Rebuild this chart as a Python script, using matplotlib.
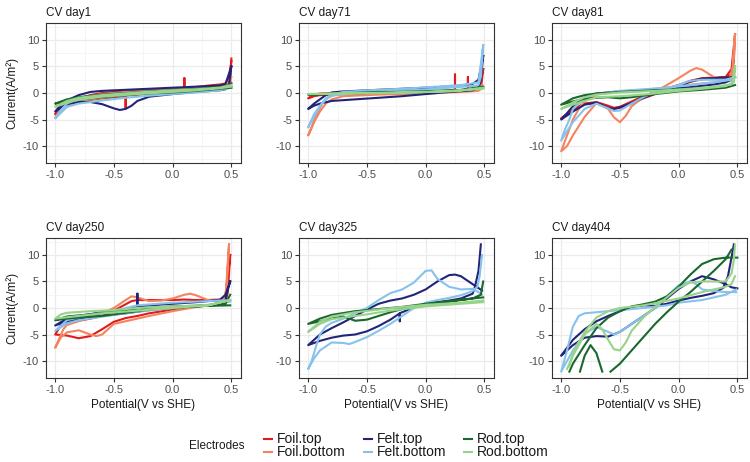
import matplotlib
matplotlib.use("Agg")
import matplotlib.pyplot as plt
from matplotlib.lines import Line2D
from matplotlib.ticker import MultipleLocator
import numpy as np

plt.rcParams['font.family'] = ['Liberation Sans', 'DejaVu Sans']

# ---------------- data : (potential V vs SHE, current A/m2) along each scan ----------------
electrodes = ["Foil.top", "Foil.bottom", "Felt.top", "Felt.bottom", "Rod.top", "Rod.bottom"]
colors = ["#E31A1C", "#F4845F", "#232479", "#86C2EC", "#19692F", "#98D38B"]
days = ["CV day1", "CV day71", "CV day81", "CV day250", "CV day325", "CV day404"]

day1 = {
    "Foil.top": [(0.5, 6.5), (0.49, 2), (0.45, 1.3), (0.4, 1.2), (0.3, 1.0), (0.2, 0.8), (0.1, 0.6), (0.0, 0.3),
                 (-0.2, 0.0), (-0.3, -0.3), (-0.4, -0.5), (-0.4, -2.8), (-0.4, -0.6), (-0.5, -0.8), (-0.6, -1.0),
                 (-0.7, -1.3), (-0.8, -1.6), (-0.9, -2.5), (-1.0, -4.0), (-0.95, -2.8), (-0.9, -2.0), (-0.8, -1.0),
                 (-0.7, -0.4), (-0.6, 0.0), (-0.5, 0.2), (-0.3, 0.4), (-0.1, 0.6), (0.1, 0.8), (0.1, 2.8), (0.1, 0.9),
                 (0.2, 1.1), (0.3, 1.4), (0.4, 1.6), (0.45, 1.8), (0.48, 3), (0.5, 6.0)],
    "Foil.bottom": [(0.5, 3), (0.45, 1.2), (0.3, 0.8), (0.1, 0.5), (-0.1, 0.2), (-0.3, -0.2), (-0.5, -0.6),
                    (-0.7, -1.2), (-0.8, -1.6), (-0.9, -2.6), (-1.0, -4.6), (-0.95, -3.0), (-0.9, -2.0), (-0.8, -1.0),
                    (-0.6, -0.2), (-0.4, 0.2), (-0.2, 0.4), (0.0, 0.6), (0.2, 0.9), (0.4, 1.3), (0.5, 2.0)],
    "Felt.top": [(0.5, 5), (0.48, 1.6), (0.45, 0.7), (0.4, 0.5), (0.2, 0.2), (0.0, -0.2), (-0.2, -0.7), (-0.3, -1.5),
                 (-0.35, -2.4), (-0.4, -3.0), (-0.45, -3.2), (-0.5, -2.9), (-0.6, -2.1), (-0.7, -1.7), (-0.8, -1.7),
                 (-0.9, -2.1), (-1.0, -3.5), (-0.95, -2.2), (-0.9, -1.4), (-0.8, -0.4), (-0.7, 0.2), (-0.6, 0.4),
                 (-0.4, 0.6), (-0.2, 0.8), (0.0, 1.0), (0.2, 1.2), (0.3, 1.3), (0.4, 1.4), (0.45, 1.7), (0.5, 5)],
    "Felt.bottom": [(0.5, 1.0), (0.4, 0.5), (0.2, 0.1), (0.0, -0.2), (-0.2, -0.5), (-0.4, -0.9), (-0.6, -1.4),
                    (-0.8, -2.0), (-0.9, -2.6), (-1.0, -4.8), (-0.95, -3.2), (-0.9, -2.0), (-0.8, -1.0), (-0.6, -0.3),
                    (-0.4, 0.0), (-0.2, 0.3), (0.0, 0.5), (0.2, 0.7), (0.4, 1.0), (0.5, 1.3)],
    "Rod.top": [(0.5, 1.0), (0.4, 0.8), (0.2, 0.4), (0.0, 0.1), (-0.2, -0.1), (-0.4, -0.4), (-0.6, -0.8), (-0.8, -1.3),
                (-0.9, -1.6), (-1.0, -2.0), (-0.9, -1.2), (-0.8, -0.8), (-0.6, -0.3), (-0.4, 0.0), (-0.2, 0.3),
                (0.0, 0.5), (0.2, 0.8), (0.4, 1.1), (0.48, 1.4), (0.5, 1.8)],
    "Rod.bottom": [(0.5, 1.2), (0.4, 0.9), (0.2, 0.5), (0.0, 0.2), (-0.3, -0.2), (-0.6, -0.7), (-0.8, -1.3),
                   (-0.9, -1.8), (-1.0, -2.6), (-0.9, -1.5), (-0.8, -0.9), (-0.6, -0.4), (-0.3, 0.1), (0.0, 0.5),
                   (0.2, 0.7), (0.4, 1.0), (0.5, 1.5)],
}

day71 = {
    "Foil.top": [(0.49, 4.5), (0.47, 0.7), (0.4, 0.5), (0.36, 0.5), (0.36, 3.0), (0.36, 0.5), (0.3, 0.4), (0.25, 0.4),
                 (0.25, 3.5), (0.25, 0.4), (0.0, 0.1), (-0.3, -0.1), (-0.6, -0.2), (-0.8, -0.3), (-0.9, -0.4),
                 (-0.95, -0.6), (-1.0, -1.0), (-0.95, -0.4), (-0.9, -0.1), (-0.7, 0.1), (-0.4, 0.2), (0.0, 0.3),
                 (0.3, 0.5), (0.45, 0.8), (0.49, 4.5)],
    "Foil.bottom": [(0.48, 1.5), (0.45, 0.4), (0.3, 0.2), (0.0, -0.1), (-0.4, -0.3), (-0.7, -0.6), (-0.8, -1.2),
                    (-0.85, -2.0), (-0.9, -3.5), (-0.95, -5.5), (-1.0, -8.0), (-0.97, -6.5), (-0.93, -4.0),
                    (-0.88, -2.0), (-0.83, -0.8), (-0.75, -0.2), (-0.6, 0.0), (-0.3, 0.2), (0.0, 0.3), (0.3, 0.5),
                    (0.45, 0.7), (0.48, 1.5)],
    "Felt.top": [(0.49, 7.0), (0.47, 2.5), (0.45, 1.0), (0.4, 0.5), (0.2, 0.2), (0.0, -0.2), (-0.2, -0.6),
                 (-0.4, -0.9), (-0.6, -1.2), (-0.8, -1.5), (-0.9, -2.0), (-0.95, -2.4), (-1.0, -3.0), (-0.95, -2.0),
                 (-0.9, -1.2), (-0.85, -0.4), (-0.8, 0.1), (-0.7, 0.3), (-0.5, 0.5), (-0.3, 0.7), (-0.1, 0.9),
                 (0.1, 1.1), (0.3, 1.4), (0.4, 1.7), (0.45, 2.5), (0.49, 7.0)],
    "Felt.bottom": [(0.49, 9.0), (0.47, 3), (0.45, 1.5), (0.4, 1.3), (0.2, 1.0), (0.0, 0.6), (-0.3, 0.3), (-0.6, 0.0),
                    (-0.8, -0.5), (-0.85, -1.2), (-0.9, -2.5), (-0.95, -4.0), (-1.0, -6.5), (-0.95, -4.5),
                    (-0.9, -2.5), (-0.85, -1.0), (-0.8, -0.3), (-0.7, 0.2), (-0.5, 0.5), (-0.2, 0.8), (0.1, 1.2),
                    (0.3, 1.5), (0.45, 2), (0.49, 9.0)],
    "Rod.top": [(0.49, 1.0), (0.3, 0.5), (0.0, 0.2), (-0.5, 0.0), (-1.0, -0.3), (-0.5, 0.1), (0.0, 0.3), (0.3, 0.6),
                (0.49, 1.2)],
    "Rod.bottom": [(0.49, 0.8), (0.2, 0.3), (-0.3, 0.0), (-1.0, -0.2), (-0.5, 0.0), (0.0, 0.2), (0.3, 0.5),
                   (0.49, 1.0)],
}

day81 = {
    "Foil.top": [(0.48, 11), (0.47, 6), (0.45, 3.5), (0.4, 2.9), (0.3, 2.8), (0.2, 2.6), (0.1, 2.1), (0.0, 1.4),
                 (-0.1, 0.6), (-0.2, -0.2), (-0.3, -1.0), (-0.4, -2.0), (-0.5, -2.8), (-0.55, -3.0), (-0.6, -2.7),
                 (-0.7, -1.9), (-0.8, -2.1), (-0.9, -3.2), (-1.0, -4.8), (-0.95, -4.0), (-0.9, -3.0), (-0.8, -2.0),
                 (-0.7, -1.7), (-0.6, -2.4), (-0.55, -2.8), (-0.5, -2.6), (-0.4, -1.6), (-0.3, -0.6), (-0.2, 0.2),
                 (-0.1, 0.9), (0.0, 1.5), (0.1, 2.3), (0.2, 2.8), (0.3, 2.9), (0.4, 3.0), (0.45, 4.5), (0.48, 11)],
    "Foil.bottom": [(0.48, 11), (0.46, 5), (0.44, 3), (0.4, 2.3), (0.3, 3.0), (0.2, 4.4), (0.15, 4.7), (0.1, 4.2),
                    (0.0, 2.8), (-0.1, 1.5), (-0.2, 0.3), (-0.3, -0.8), (-0.4, -2.5), (-0.45, -4.3), (-0.5, -5.5),
                    (-0.55, -4.6), (-0.6, -3.0), (-0.7, -1.9), (-0.8, -4.5), (-0.9, -8.0), (-0.95, -10.0),
                    (-1.0, -11.0), (-0.95, -8.0), (-0.9, -5.0), (-0.85, -3.0), (-0.8, -1.5), (-0.7, -0.3), (-0.5, 0.3),
                    (-0.3, 0.6), (-0.1, 1.0), (0.0, 1.3), (0.2, 1.8), (0.3, 2.0), (0.4, 2.3), (0.46, 3.5), (0.48, 11)],
    "Felt.top": [(0.48, 3.0), (0.4, 2.9), (0.3, 2.8), (0.2, 2.7), (0.1, 2.2), (0.0, 1.2), (-0.1, 0.5), (-0.2, -0.1),
                 (-0.3, -0.9), (-0.4, -1.9), (-0.5, -2.7), (-0.55, -3.0), (-0.6, -2.8), (-0.7, -1.8), (-0.8, -2.2),
                 (-0.9, -3.5), (-1.0, -5.0), (-0.95, -3.8), (-0.9, -2.5), (-0.8, -0.8), (-0.7, -0.1), (-0.5, 0.3),
                 (-0.3, 0.5), (-0.1, 0.8), (0.1, 1.1), (0.3, 1.6), (0.4, 2.0), (0.45, 2.5), (0.48, 3.0)],
    "Felt.bottom": [(0.48, 3.0), (0.4, 2.5), (0.3, 2.5), (0.2, 2.5), (0.1, 2.3), (0.0, 1.5), (-0.1, 0.8), (-0.2, 0.2),
                    (-0.3, -0.8), (-0.4, -2.0), (-0.5, -3.3), (-0.55, -3.4), (-0.6, -2.9), (-0.7, -2.0), (-0.8, -3.0),
                    (-0.9, -5.5), (-0.95, -7.2), (-1.0, -9.0), (-0.97, -7.0), (-0.93, -5.0), (-0.9, -3.0),
                    (-0.8, -1.0), (-0.7, -0.2), (-0.5, 0.4), (-0.3, 0.7), (-0.1, 1.0), (0.1, 1.5), (0.3, 2.0),
                    (0.45, 2.5), (0.48, 3.0)],
    "Rod.top": [(0.48, 1.5), (0.4, 1.0), (0.2, 0.6), (0.0, 0.3), (-0.2, -0.2), (-0.4, -0.8), (-0.5, -1.0),
                (-0.6, -0.8), (-0.7, -0.9), (-0.8, -1.1), (-0.9, -1.6), (-1.0, -2.2), (-0.9, -1.0), (-0.8, -0.4),
                (-0.7, -0.1), (-0.5, 0.2), (-0.3, 0.4), (0.0, 0.7), (0.3, 1.0), (0.45, 1.5), (0.48, 4.5)],
    "Rod.bottom": [(0.48, 5.0), (0.47, 2.0), (0.4, 1.3), (0.2, 0.8), (0.0, 0.4), (-0.3, -0.3), (-0.5, -0.6),
                   (-0.7, -0.8), (-0.8, -1.5), (-0.9, -2.2), (-1.0, -3.0), (-0.9, -1.8), (-0.8, -0.8), (-0.7, -0.3),
                   (-0.5, 0.1), (-0.2, 0.4), (0.1, 0.8), (0.3, 1.2), (0.45, 1.6), (0.48, 5.0)],
}

day250 = {
    "Foil.top": [(0.49, 10), (0.47, 3), (0.45, 1.2), (0.4, 0.8), (0.2, 0.3), (0.0, -0.3), (-0.2, -1.0), (-0.3, -1.5),
                 (-0.4, -1.9), (-0.5, -2.6), (-0.6, -4.0), (-0.7, -5.3), (-0.8, -5.7), (-0.9, -5.2), (-1.0, -5.0),
                 (-0.95, -3.2), (-0.9, -2.6), (-0.8, -2.4), (-0.7, -2.0), (-0.6, -1.5), (-0.5, -0.5), (-0.4, 0.7),
                 (-0.35, 1.3), (-0.3, 1.5), (-0.2, 1.5), (0.0, 1.5), (0.1, 1.6), (0.2, 1.5), (0.3, 1.5), (0.4, 1.6),
                 (0.45, 2.0), (0.49, 10)],
    "Foil.bottom": [(0.48, 12), (0.46, 4), (0.44, 1.5), (0.4, 0.8), (0.2, 0.2), (0.0, -0.6), (-0.2, -1.5),
                    (-0.3, -2.0), (-0.4, -2.5), (-0.5, -3.0), (-0.6, -5.0), (-0.65, -5.3), (-0.7, -5.0), (-0.8, -4.2),
                    (-0.9, -4.6), (-0.95, -5.5), (-1.0, -7.5), (-0.97, -6.0), (-0.93, -4.0), (-0.9, -3.2),
                    (-0.8, -2.5), (-0.7, -1.6), (-0.6, -1.0), (-0.5, 0.0), (-0.4, 1.5), (-0.35, 2.2), (-0.3, 2.0),
                    (-0.2, 1.3), (-0.1, 1.4), (0.0, 1.8), (0.1, 2.5), (0.15, 2.7), (0.2, 2.4), (0.3, 1.5), (0.4, 1.2),
                    (0.45, 2.0), (0.48, 12)],
    "Felt.top": [(0.49, 5.0), (0.47, 3.5), (0.45, 1.5), (0.4, 0.6), (0.2, 0.3), (0.0, 0.0), (-0.2, -0.4),
                 (-0.4, -1.0), (-0.6, -1.5), (-0.8, -2.0), (-0.9, -2.5), (-1.0, -3.3), (-0.9, -2.0), (-0.8, -1.5),
                 (-0.6, -0.8), (-0.4, -0.2), (-0.3, 0.2), (-0.3, 2.7), (-0.3, 0.3), (-0.2, 0.5), (0.0, 0.8),
                 (0.2, 1.1), (0.4, 1.5), (0.45, 2.5), (0.49, 5.0)],
    "Felt.bottom": [(0.49, 1.2), (0.3, 0.6), (0.0, 0.0), (-0.3, -0.7), (-0.5, -1.3), (-0.8, -2.3), (-0.9, -2.9),
                    (-1.0, -4.3), (-0.9, -2.3), (-0.7, -1.3), (-0.5, -0.5), (-0.3, 0.5), (0.0, 1.0), (0.3, 1.3),
                    (0.49, 1.5)],
    "Rod.top": [(0.49, 0.5), (0.3, 0.4), (0.0, 0.1), (-0.2, -0.3), (-0.4, -0.9), (-0.6, -1.5), (-0.8, -1.8),
                (-0.9, -2.0), (-1.0, -2.3), (-0.9, -1.6), (-0.7, -1.2), (-0.5, -0.7), (-0.3, -0.1), (0.0, 0.3),
                (0.3, 0.5), (0.45, 0.8), (0.49, 2.5)],
    "Rod.bottom": [(0.49, 1.5), (0.3, 0.5), (0.0, 0.0), (-0.3, -0.5), (-0.6, -1.0), (-0.8, -1.5), (-1.0, -2.0),
                   (-0.95, -1.2), (-0.9, -0.9), (-0.7, -0.6), (-0.5, -0.4), (-0.3, 0.0), (0.0, 0.3), (0.3, 0.5),
                   (0.49, 1.5)],
}

day325 = {
    "Felt.top": [(0.47, 12), (0.45, 7), (0.42, 4), (0.4, 2.7), (0.3, 1.8), (0.2, 1.4), (0.1, 1.1), (0.0, 0.8),
                 (-0.1, 0.1), (-0.2, -0.8), (-0.22, -1.0), (-0.22, -2.5), (-0.22, -1.0), (-0.3, -2.2), (-0.4, -3.4),
                 (-0.5, -4.4), (-0.6, -5.0), (-0.7, -5.2), (-0.8, -5.6), (-0.9, -6.2), (-1.0, -7.0), (-0.95, -6.0),
                 (-0.9, -5.0), (-0.8, -3.8), (-0.7, -2.7), (-0.6, -1.5), (-0.5, -0.3), (-0.4, 0.8), (-0.3, 1.4),
                 (-0.2, 1.8), (-0.1, 2.5), (0.0, 3.5), (0.1, 5.0), (0.2, 6.2), (0.25, 6.3), (0.3, 6.0), (0.4, 4.5),
                 (0.48, 3.3)],
    "Felt.bottom": [(0.48, 10), (0.46, 6), (0.44, 4), (0.4, 3.2), (0.3, 2.4), (0.2, 1.9), (0.1, 1.5), (0.0, 1.0),
                    (-0.1, 0.0), (-0.2, -1.5), (-0.3, -3.0), (-0.4, -4.3), (-0.5, -5.5), (-0.6, -6.4), (-0.65, -6.8),
                    (-0.7, -6.6), (-0.8, -6.5), (-0.9, -8.0), (-0.95, -9.5), (-1.0, -11.5), (-0.97, -10.0),
                    (-0.93, -7.0), (-0.9, -5.0), (-0.85, -3.5), (-0.8, -2.8), (-0.7, -2.0), (-0.6, -1.0), (-0.5, 0.0),
                    (-0.4, 1.5), (-0.3, 2.8), (-0.2, 3.5), (-0.1, 4.8), (0.0, 7.0), (0.05, 7.1), (0.1, 5.5),
                    (0.2, 4.0), (0.3, 3.5), (0.4, 3.6), (0.45, 3.0), (0.48, 2.5)],
    "Rod.top": [(0.49, 2.0), (0.4, 1.8), (0.2, 1.2), (0.0, 0.5), (-0.2, -0.2), (-0.3, -0.8), (-0.4, -1.5),
                (-0.5, -2.2), (-0.6, -2.4), (-0.7, -1.6), (-0.8, -2.0), (-0.9, -2.5), (-1.0, -3.0), (-0.9, -2.0),
                (-0.8, -1.3), (-0.6, -0.6), (-0.4, -0.2), (-0.2, 0.2), (0.0, 0.8), (0.2, 1.3), (0.4, 1.8),
                (0.47, 2.5), (0.49, 5.0)],
    "Rod.bottom": [(0.49, 1.1), (0.3, 0.8), (0.0, 0.3), (-0.3, -0.5), (-0.5, -1.2), (-0.7, -1.8), (-0.8, -2.1),
                   (-0.9, -3.0), (-1.0, -4.5), (-0.9, -2.6), (-0.8, -1.6), (-0.6, -0.8), (-0.4, -0.3), (-0.2, 0.2),
                   (0.0, 0.6), (0.3, 1.0), (0.49, 1.4)],
}

day404 = {
    "Felt.top": [(0.5, 3.7), (0.45, 3.9), (0.4, 4.5), (0.3, 5.4), (0.2, 6.0), (0.1, 5.0), (0.0, 3.6), (-0.1, 1.8),
                 (-0.2, 0.0), (-0.3, -1.5), (-0.4, -3.0), (-0.5, -4.5), (-0.6, -5.4), (-0.7, -5.3), (-0.8, -5.6),
                 (-0.9, -7.0), (-1.0, -9.0), (-0.95, -7.5), (-0.9, -6.0), (-0.8, -4.0), (-0.7, -2.5), (-0.6, -1.5),
                 (-0.5, -0.6), (-0.4, 0.2), (-0.3, 0.5), (-0.2, 0.4), (-0.1, 0.8), (0.0, 1.4), (0.1, 1.9), (0.2, 2.3),
                 (0.3, 2.8), (0.38, 3.8), (0.42, 6.0), (0.45, 9.5), (0.47, 12)],
    "Felt.bottom": [(0.49, 3.0), (0.4, 3.0), (0.3, 3.2), (0.2, 3.5), (0.15, 4.5), (0.1, 5.0), (0.0, 4.3), (-0.1, 2.2),
                    (-0.2, 0.0), (-0.3, -1.5), (-0.4, -3.0), (-0.5, -4.5), (-0.55, -5.0), (-0.6, -4.5), (-0.7, -3.6),
                    (-0.8, -4.8), (-0.9, -8.0), (-0.95, -10), (-1.0, -12), (-0.95, -8.0), (-0.9, -3.5), (-0.85, -1.5),
                    (-0.8, -1.0), (-0.7, -0.8), (-0.5, -0.4), (-0.3, 0.0), (-0.1, 0.5), (0.0, 1.0), (0.2, 1.5),
                    (0.3, 2.0), (0.4, 2.5), (0.49, 3.5)],
    "Rod.top": [(0.5, 13), (0.45, 11), (0.4, 9.2), (0.3, 7.0), (0.2, 5.0), (0.1, 3.0), (0.0, 1.2), (-0.1, -0.8),
                (-0.2, -3.0), (-0.3, -5.5), (-0.4, -8.0), (-0.5, -10.5), (-0.58, -12.0), (-0.6, -13), (-0.63, -13),
                (-0.65, -12), (-0.7, -8.5), (-0.75, -7.0), (-0.8, -9.0), (-0.84, -12), (-0.9, -15), (-1.0, -16),
                (-0.95, -14), (-0.93, -12), (-0.9, -10.5), (-0.8, -7.0), (-0.7, -3.8), (-0.6, -1.8), (-0.5, -0.6),
                (-0.4, 0.3), (-0.3, 0.7), (-0.2, 1.2), (-0.1, 2.2), (0.0, 4.0), (0.1, 6.3), (0.2, 8.3), (0.3, 9.2),
                (0.4, 9.5), (0.5, 9.5)],
    "Rod.bottom": [(0.48, 12), (0.47, 9), (0.45, 6.5), (0.4, 5.0), (0.3, 5.0), (0.2, 5.0), (0.1, 4.8), (0.0, 3.8),
                   (-0.1, 2.0), (-0.2, 0.2), (-0.3, -1.8), (-0.4, -4.3), (-0.45, -6.5), (-0.5, -8.0), (-0.55, -7.8),
                   (-0.6, -6.0), (-0.65, -4.0), (-0.7, -3.0), (-0.8, -5.0), (-0.9, -9.0), (-0.95, -11.5),
                   (-0.97, -12.5), (-0.93, -11.0), (-0.9, -8.5), (-0.8, -4.5), (-0.7, -1.8), (-0.6, -0.6), (-0.5, 0.0),
                   (-0.3, 0.5), (-0.2, 0.9), (0.0, 1.8), (0.1, 2.4), (0.2, 3.0), (0.3, 3.5), (0.4, 4.0), (0.45, 4.5),
                   (0.48, 6.0)],
}

all_days = [day1, day71, day81, day250, day325, day404]
y_limit = 12          # scale limits: values beyond are dropped

# ---------------- figure ----------------
W, H = 750, 462
fig = plt.figure(figsize=(W / 100, H / 100), dpi=100)

col_left = [46, 299, 552]
row_top = [23, 238]
pw, ph = 195, 140

def px(x, y):
    return x / W, 1 - y / H

for k, (title, data) in enumerate(zip(days, all_days)):
    r, c = divmod(k, 3)
    x0, y0 = px(col_left[c], row_top[r] + ph)
    ax = fig.add_axes([x0, y0, pw / W, ph / H])
    for name, col in zip(electrodes, colors):
        if name not in data:
            continue
        pts = np.array(data[name], dtype=float)
        y = pts[:, 1].copy()
        y[np.abs(y) > y_limit] = np.nan
        ax.plot(pts[:, 0], y, color=col, lw=1.5, solid_joinstyle='round')
    ax.set_xlim(-1.078, 0.582)
    ax.set_ylim(-13.2, 13.2)
    ax.xaxis.set_minor_locator(MultipleLocator(0.25))
    ax.yaxis.set_minor_locator(MultipleLocator(2.5))
    ax.set_xticks([-1.0, -0.5, 0.0, 0.5])
    ax.set_xticklabels(["-1.0", "-0.5", "0.0", "0.5"])
    ax.set_yticks([-10, -5, 0, 5, 10])
    ax.set_yticklabels(["-10", "-5", "0", "5", "10"])
    ax.grid(True, which='major', color='#EBEBEB', lw=0.9)
    ax.grid(True, which='minor', color='#F2F2F2', lw=0.5)
    ax.set_axisbelow(True)
    for s in ax.spines.values():
        s.set_color('#333333')
        s.set_linewidth(0.8)
    ax.tick_params(which='major', length=3, width=0.8, color='#333333', labelcolor='#4D4D4D',
                   labelsize=8, pad=2)
    ax.tick_params(which='minor', length=0)
    ax.set_title(title, loc='left', fontsize=8.5, color='#1A1A1A', pad=5)
    if c == 0:
        ax.set_ylabel("Current(A/m²)", fontsize=8.5, color='#1A1A1A', labelpad=3)
    if r == 1:
        ax.set_xlabel("Potential(V vs SHE)", fontsize=8.5, color='#1A1A1A', labelpad=3)

# ---------------- legend ----------------
fig.text(*px(189, 446), "Electrodes", fontsize=8.5, color='#1A1A1A', va='center', ha='left')
label_x = [277, 377, 477]
row_y = [439, 452]
for i, (name, col) in enumerate(zip(electrodes, colors)):
    c, r = divmod(i, 2)
    lx = label_x[c]
    ly = row_y[r]
    xa, ya = px(lx - 13, ly)
    xb, _ = px(lx - 5, ly)
    fig.add_artist(Line2D([xa, xb], [ya, ya], color=col, lw=1.5, transform=fig.transFigure))
    fig.text(*px(lx, ly), name, fontsize=10, color='#1A1A1A', va='center', ha='left')

fig.savefig("out.png", dpi=100)
